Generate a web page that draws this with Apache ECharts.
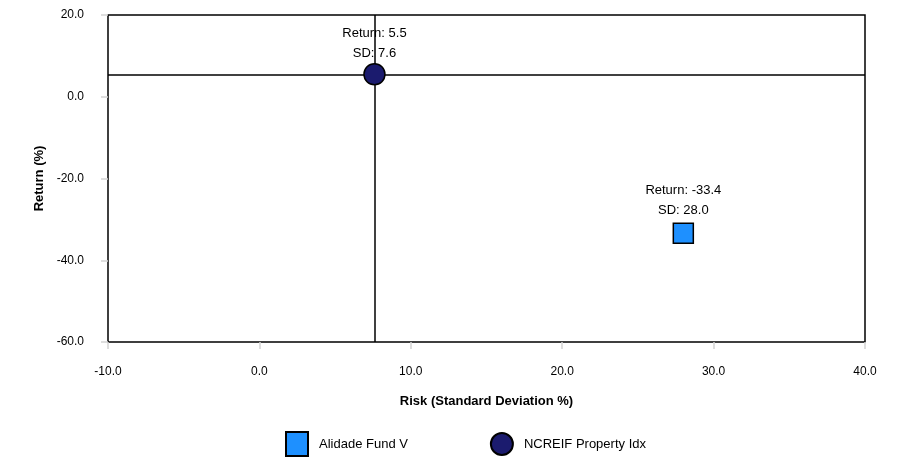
<!DOCTYPE html>
<html>
<head>
<meta charset="utf-8">
<script src="https://cdn.jsdelivr.net/npm/echarts@6/dist/echarts.min.js"></script>
<style>
html,body{margin:0;padding:0;background:#fff;}
#chart{width:902px;height:457px;}
</style>
</head>
<body>
<div id="chart"></div>
<script>
var seriesNames = ['Alidade Fund V', 'NCREIF Property Idx'];
var riskSD = [28.0, 7.6];
var returns = [-33.4, 5.5];
var xTicks = {min: -10, max: 40, interval: 10};
var yTicks = {min: -60, max: 20, interval: 20};
var benchmarkSD = 7.6;
var benchmarkReturn = 5.5;

var colors = ['#1E90FF', '#1B1B6E'];
var symbols = ['rect', 'circle'];

var chart = echarts.init(document.getElementById('chart'), null, {renderer: 'canvas'});
var font = 'Arial, "Liberation Sans", sans-serif';

var series = seriesNames.map(function (n, i) {
  var s = {
    name: n,
    type: 'scatter',
    symbol: symbols[i],
    symbolSize: i === 0 ? 20 : 21,
    itemStyle: {color: colors[i], borderColor: '#000', borderWidth: 1.5, opacity: 1},
    data: [[riskSD[i], returns[i]]],
    z: 5,
    label: {
      show: true,
      position: 'top',
      distance: i === 0 ? 2 : 0,
      color: '#000',
      fontFamily: font,
      fontSize: 13,
      lineHeight: 20,
      align: 'center',
      formatter: function (p) {
        return 'Return: ' + p.value[1].toFixed(1) + '\nSD: ' + p.value[0].toFixed(1);
      }
    }
  };
  if (i === 1) {
    s.markLine = {
      silent: true,
      symbol: ['none', 'none'],
      label: {show: false},
      lineStyle: {color: '#000', width: 1.5, type: 'solid'},
      z: 1,
      data: [{xAxis: benchmarkSD}, {yAxis: benchmarkReturn}]
    };
  }
  return s;
});

chart.setOption({
  animation: false,
  backgroundColor: '#fff',
  textStyle: {fontFamily: font},
  grid: {left: 108, right: 37, top: 15, bottom: 115, show: true, borderColor: '#000', borderWidth: 1.5, backgroundColor: 'transparent'},
  xAxis: {
    type: 'value',
    min: xTicks.min, max: xTicks.max, interval: xTicks.interval,
    name: 'Risk (Standard Deviation %)',
    nameLocation: 'middle',
    nameGap: 53,
    nameTextStyle: {fontWeight: 'bold', fontSize: 13, color: '#000', fontFamily: font},
    axisLine: {show: false, onZero: false},
    axisTick: {show: true, inside: false, length: 7, lineStyle: {color: '#d4d4d4', width: 1.5}},
    axisLabel: {color: '#000', fontSize: 12, margin: 24, fontFamily: font, formatter: function (v) { return v.toFixed(1); }},
    splitLine: {show: false}
  },
  yAxis: {
    type: 'value',
    min: yTicks.min, max: yTicks.max, interval: yTicks.interval,
    name: 'Return (%)',
    nameLocation: 'middle',
    nameGap: 62,
    nameRotate: 90,
    nameTextStyle: {fontWeight: 'bold', fontSize: 13, color: '#000', fontFamily: font},
    axisLine: {show: false, onZero: false},
    axisTick: {show: true, inside: false, length: 7, lineStyle: {color: '#d4d4d4', width: 1.5}},
    axisLabel: {color: '#000', fontSize: 12, margin: 24, fontFamily: font, formatter: function (v) { return v.toFixed(1); }},
    splitLine: {show: false}
  },
  legend: {
    top: 426,
    left: 280,
    itemWidth: 22,
    itemHeight: 24,
    itemGap: 82,
    textStyle: {color: '#000', fontSize: 13, fontFamily: font, padding: [0, 0, 0, 6]},
    data: seriesNames.map(function (n, i) { return {name: n, icon: symbols[i]}; })
  },
  series: series
});
</script>
</body>
</html>
